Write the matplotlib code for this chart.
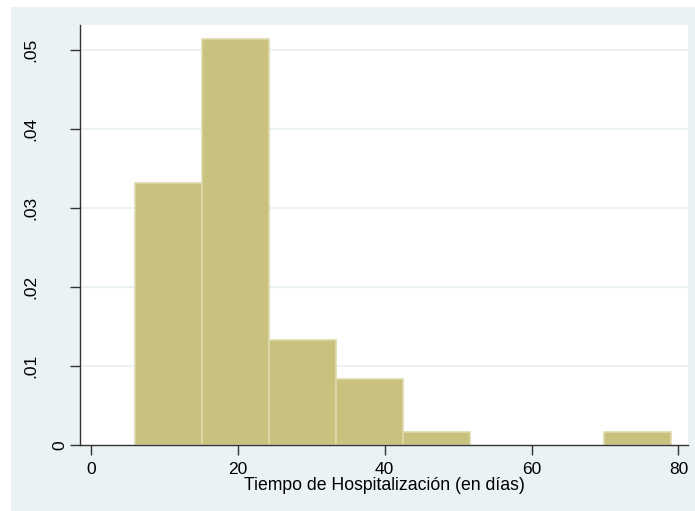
import matplotlib.pyplot as plt
from matplotlib.patches import Rectangle
from matplotlib.transforms import blended_transform_factory, ScaledTranslation

# histogram bins (8 bins from 6 to 79 days) and counts per bin
bin_edges = [6, 15.125, 24.25, 33.375, 42.5, 51.625, 60.75, 69.875, 79]
counts = [20, 31, 8, 5, 1, 0, 0, 1]
x_ticks = [0, 20, 40, 60, 80]
y_ticks = [0, 0.01, 0.02, 0.03, 0.04, 0.05]
y_tick_labels = ['0', '.01', '.02', '.03', '.04', '.05']

n_total = sum(counts)
widths = [b - a for a, b in zip(bin_edges[:-1], bin_edges[1:])]
density = [c / (n_total * w) for c, w in zip(counts, widths)]

bg = '#EAF2F3'
bar_color = '#C9C27F'
edge_color = '#DDD9AC'
axis_color = '#333333'

plt.rcParams['font.family'] = ['Liberation Sans', 'DejaVu Sans']

fig = plt.figure(figsize=(6.95, 5.11), dpi=100, facecolor='white')
fig.patches.append(Rectangle((11 / 695, 0), 1, (511 - 7) / 511,
                             transform=fig.transFigure, facecolor=bg,
                             edgecolor='none', zorder=-1))

ax = fig.add_axes([80 / 695, (511 - 445) / 511, (688 - 80) / 695, (445 - 25) / 511])
ax.set_facecolor('white')

for y in y_ticks[1:]:
    ax.axhline(y, color=bg, linewidth=1.5, zorder=0)

# empty bins get no outline, like Stata
lws = [1.2 if d > 0 else 0 for d in density]
ax.bar(bin_edges[:-1], density, width=widths, align='edge',
       color=bar_color, edgecolor=edge_color, linewidth=lws, zorder=2)

ax.set_xlim(-1.5, 81.3)
ax.set_ylim(0, 0.0532)
ax.set_xticks(x_ticks)
ax.set_yticks(y_ticks)
ax.set_yticklabels([])

# Stata pushes the longer vertical labels further out than the single "0"
ytrans = blended_transform_factory(ax.transAxes, ax.transData)
for y, lab in zip(y_ticks, y_tick_labels):
    dx = 20.5 if len(lab) == 1 else 49.5
    off = ScaledTranslation(-dx / fig.dpi, 0, fig.dpi_scale_trans)
    ax.text(0, y, lab, transform=ytrans + off, rotation=90,
            ha='center', va='center', fontsize=12.5, clip_on=False)

for side in ['top', 'right']:
    ax.spines[side].set_visible(False)
for side in ['left', 'bottom']:
    ax.spines[side].set_color(axis_color)
    ax.spines[side].set_linewidth(1.0)

ax.tick_params(axis='both', colors=axis_color, labelcolor='black',
               length=7, width=1.0, labelsize=12.5)
ax.tick_params(axis='x', pad=5)

ax.set_xlabel('Tiempo de Hospitalización (en días)', fontsize=12.7, labelpad=0.5)

fig.savefig('out.png', dpi=100, facecolor=fig.get_facecolor())
